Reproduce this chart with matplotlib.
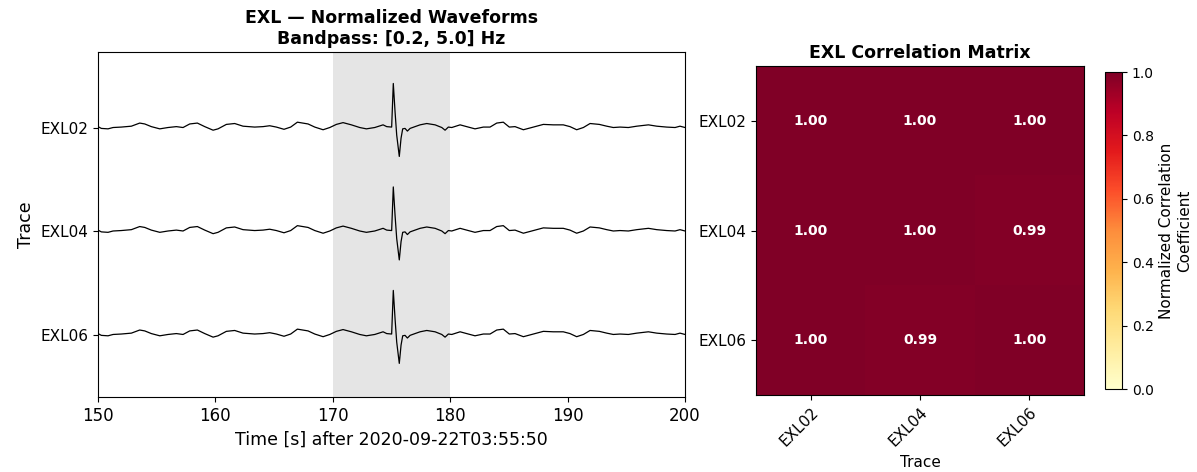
import matplotlib
matplotlib.use("Agg")
import matplotlib.pyplot as plt
import numpy as np

# stations and shared (normalized) waveform
stations = ["EXL02", "EXL04", "EXL06"]
offsets = [2, 1, 0]

times = [150.00, 150.28, 150.85, 151.28, 151.98, 152.84, 153.55, 153.98, 154.54, 155.26,
         155.96, 156.67, 157.24, 157.81, 158.46, 159.09, 159.80, 160.22, 160.93, 161.64,
         162.35, 163.34, 164.05, 164.62, 165.19, 165.84, 166.41, 166.98, 167.89, 168.46,
         169.17, 169.74, 170.30, 170.87, 171.58, 172.29, 172.86, 173.57, 174.28, 174.59,
         175.01, 175.15, 175.30, 175.44, 175.66, 175.81, 175.95, 176.15, 176.35, 176.58,
         177.00, 177.43, 178.00, 178.71, 179.28, 179.56, 179.84, 180.13, 180.84, 181.54,
         182.11, 182.82, 183.39, 183.96, 184.52, 185.03, 185.52, 186.23, 186.94, 187.93,
         188.78, 189.63, 190.20, 190.77, 191.34, 191.91, 192.70, 193.33, 193.89, 194.46,
         195.17, 195.89, 196.88, 197.59, 198.43, 199.15, 199.57, 200.00]
amps = [0.03, -0.01, -0.02, 0.01, 0.02, 0.04, 0.11, 0.09, 0.03, -0.02,
        0.01, 0.03, 0.01, 0.09, 0.11, 0.03, -0.05, -0.02, 0.08, 0.10,
        0.04, 0.02, 0.03, 0.05, 0.02, -0.03, 0.02, 0.13, 0.09, 0.02,
        -0.04, 0.01, 0.08, 0.12, 0.07, 0.01, -0.02, 0.01, 0.07, 0.03,
        0.02, 1.00, 0.36, -0.16, -0.64, -0.23, -0.02, -0.01, -0.07, -0.01,
        0.03, 0.07, 0.10, 0.07, 0.01, -0.05, 0.02, 0.01, 0.07, 0.02,
        -0.02, 0.02, 0.02, 0.11, 0.13, 0.02, 0.03, -0.04, 0.01, 0.08,
        0.07, 0.07, 0.03, -0.04, 0.01, 0.10, 0.08, 0.04, 0.01, 0.02,
        0.01, 0.04, 0.07, 0.04, 0.02, 0.01, 0.04, 0.01]
scale = 0.43

corr = [[1.00, 1.00, 1.00],
        [1.00, 1.00, 0.99],
        [1.00, 0.99, 1.00]]

fig = plt.figure(figsize=(11.97, 4.72), dpi=100)

# waveforms
ax1 = fig.add_axes([0.0819, 0.1589, 0.4904, 0.7309])
ax1.axvspan(170, 180, color="gray", alpha=0.2, lw=0)
for off in offsets:
    ax1.plot(times, off + scale * np.array(amps), color="black", lw=0.9)
ax1.set_yticks(offsets)
ax1.set_yticklabels(stations, fontsize=11)
ax1.set_xlim(150, 200)
ax1.set_ylim(-0.6, 2.734)
ax1.tick_params(axis="x", labelsize=12)
ax1.set_xlabel("Time [s] after 2020-09-22T03:55:50", fontsize=12.5)
ax1.set_ylabel("Trace", fontsize=12.5)
ax1.set_title("EXL \u2014 Normalized Waveforms\nBandpass: [0.2, 5.0] Hz",
              fontsize=12.5, fontweight="bold")

# correlation matrix
ax2 = fig.add_axes([0.6316, 0.1631, 0.2740, 0.6970])
im = ax2.imshow(corr, cmap="YlOrRd", vmin=0, vmax=1, aspect="auto")
for i in range(len(stations)):
    for j in range(len(stations)):
        ax2.text(j, i, f"{corr[i][j]:.2f}", ha="center", va="center",
                 color="white", fontweight="bold", fontsize=10)
ax2.set_xticks(range(len(stations)))
ax2.set_yticks(range(len(stations)))
ax2.set_xticklabels(stations, rotation=45, ha="right", rotation_mode="anchor", fontsize=11)
ax2.set_yticklabels(stations, fontsize=11)
ax2.set_xlabel("Trace", fontsize=11)
ax2.set_title("EXL Correlation Matrix", fontsize=12.5, fontweight="bold")

cax = fig.add_axes([0.9231, 0.1758, 0.0142, 0.6716])
cb = fig.colorbar(im, cax=cax)
cb.set_label("Normalized Correlation\nCoefficient", fontsize=11)
cb.ax.tick_params(labelsize=10)

fig.savefig("out.png", dpi=100)
